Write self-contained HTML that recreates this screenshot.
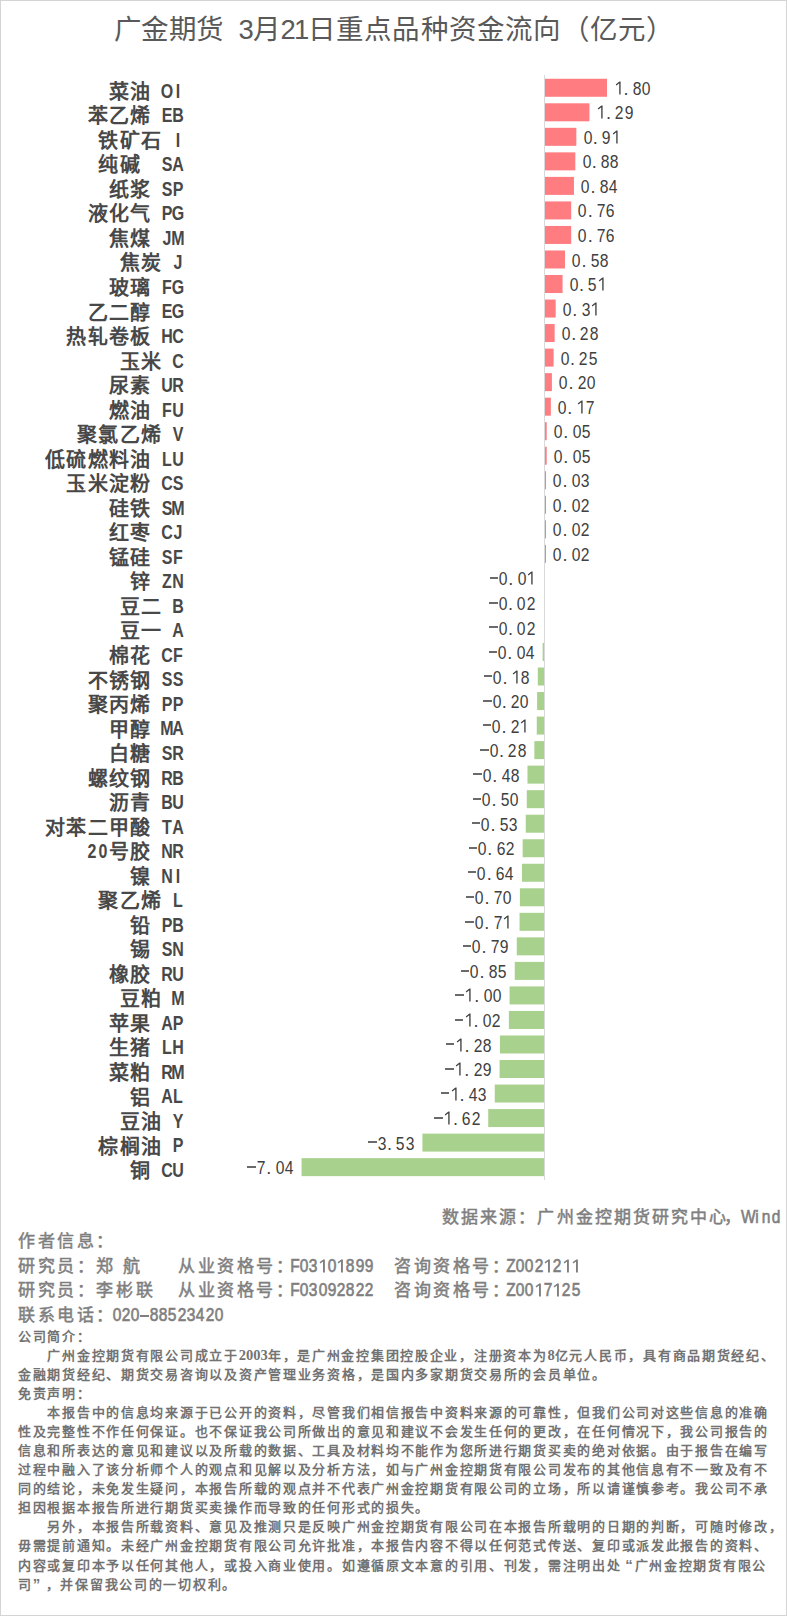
<!DOCTYPE html>
<html lang="zh-CN"><head><meta charset="utf-8">
<style>
html,body{margin:0;padding:0;background:#fff;}
body{width:787px;height:1616px;position:relative;overflow:hidden;font-family:"Liberation Sans",sans-serif;}
#frame{position:absolute;left:0;top:0;width:785px;height:1614px;border:1px solid #D4D4D4;}
.ti{position:absolute;top:14.6px;font-size:27.5px;line-height:30px;letter-spacing:0.6px;color:#595959;white-space:nowrap;}
#chart{position:absolute;left:0;top:0;}
.lb{position:absolute;right:604px;height:24px;margin-top:-12px;line-height:24px;font-weight:bold;color:#484848;white-space:nowrap;}
.lb i{font-style:normal;display:inline-block;text-align:center;vertical-align:top;height:24px;}
.lb i.c{width:21.33px;font-size:20px;position:relative;top:4px;}
.lb i.h{width:10.67px;font-size:20px;position:relative;top:2.9px;}
.lb b{display:inline-block;width:24px;margin:0 -6.67px;text-align:center;transform:scaleX(0.8);}
.vl{position:absolute;height:20px;margin-top:-8.95px;line-height:20px;font-size:18.2px;color:#404040;white-space:nowrap;}
.vl i{font-style:normal;display:inline-block;width:9.3px;height:20px;vertical-align:top;text-align:center;}
.vl i b{display:inline-block;width:16px;margin:0 -3.35px;text-align:center;font-weight:normal;transform:scaleX(0.86);}
.vl svg.one{display:block;}
.vl i.p{text-align:left;text-indent:0.6px;}
.vl i.m{position:relative;}
.mn{position:absolute;width:8.6px;height:2px;background:#6A6A6A;}
.ft{position:absolute;white-space:nowrap;color:#7F7F7F;font-weight:normal;-webkit-text-stroke:0.5px #7F7F7F;margin-top:1.3px;}
.a{font-size:17px;letter-spacing:2.6px;line-height:24px;}
.w i{font-style:normal;display:inline-block;width:9.2px;text-align:center;}
.w b{display:inline-block;width:16px;margin:0 -3.4px;text-align:center;font-weight:bold;transform:scaleX(0.72);}
.n{font-size:17px;line-height:24px;font-weight:normal;-webkit-text-stroke:0.65px #7F7F7F;margin-top:0 !important;}
.n i{font-style:normal;display:inline-block;width:9.3px;height:24px;vertical-align:top;text-align:center;position:relative;}
.n i b{display:inline-block;width:16px;margin:0 -3.35px;text-align:center;font-weight:normal;font-size:18px;transform:scaleX(0.86);}
.n svg.one{display:block;}
.n u.hy{position:absolute;left:0;top:11.5px;width:9px;height:2px;background:#7F7F7F;}
.d{position:absolute;left:18px;white-space:nowrap;color:#737373;font-weight:bold;font-size:13px;letter-spacing:1.72px;line-height:19px;}

.d .q{display:inline-block;width:13px;font-size:15px;}
.d s{text-decoration:none;font-family:"Liberation Serif",serif;font-size:14.5px;letter-spacing:0;}
</style></head><body>
<div id="frame"></div>
<div class="ti" style="left:113.5px;">广金期货</div><div class="ti" style="left:238.5px;"><span style="letter-spacing:-1px">3</span>月<span style="letter-spacing:-1.6px">21</span><span style="letter-spacing:1.2px">日重点品种资金流向（亿元）</span></div>
<svg id="chart" width="787" height="1200" viewBox="0 0 787 1200">
<rect x="544" y="75" width="1" height="1105" fill="#D9D9D9"/>
<rect x="545.00" y="78.77" width="61.99" height="18.00" fill="#FF7C80"/>
<rect x="545.00" y="103.30" width="44.43" height="18.00" fill="#FF7C80"/>
<rect x="545.00" y="127.83" width="31.34" height="18.00" fill="#FF7C80"/>
<rect x="545.00" y="152.36" width="30.31" height="18.00" fill="#FF7C80"/>
<rect x="545.00" y="176.89" width="28.93" height="18.00" fill="#FF7C80"/>
<rect x="545.00" y="201.42" width="26.17" height="18.00" fill="#FF7C80"/>
<rect x="545.00" y="225.95" width="26.17" height="18.00" fill="#FF7C80"/>
<rect x="545.00" y="250.48" width="19.98" height="18.00" fill="#FF7C80"/>
<rect x="545.00" y="275.01" width="17.56" height="18.00" fill="#FF7C80"/>
<rect x="545.00" y="299.55" width="10.68" height="18.00" fill="#FF7C80"/>
<rect x="545.00" y="324.08" width="9.64" height="18.00" fill="#FF7C80"/>
<rect x="545.00" y="348.61" width="8.61" height="18.00" fill="#FF7C80"/>
<rect x="545.00" y="373.14" width="6.89" height="18.00" fill="#FF7C80"/>
<rect x="545.00" y="397.67" width="5.85" height="18.00" fill="#FF7C80"/>
<rect x="545.00" y="422.20" width="1.72" height="18.00" fill="#FF7C80"/>
<rect x="545.00" y="446.73" width="1.72" height="18.00" fill="#FF7C80"/>
<rect x="545.00" y="471.26" width="1.03" height="18.00" fill="#FF7C80"/>
<rect x="545.00" y="495.79" width="1.00" height="18.00" fill="#FF7C80"/>
<rect x="545.00" y="520.33" width="1.00" height="18.00" fill="#FF7C80"/>
<rect x="545.00" y="544.86" width="1.00" height="18.00" fill="#FF7C80"/>
<rect x="542.62" y="642.98" width="1.38" height="18.00" fill="#A9D18E"/>
<rect x="537.80" y="667.51" width="6.20" height="18.00" fill="#A9D18E"/>
<rect x="537.11" y="692.04" width="6.89" height="18.00" fill="#A9D18E"/>
<rect x="536.77" y="716.57" width="7.23" height="18.00" fill="#A9D18E"/>
<rect x="534.36" y="741.11" width="9.64" height="18.00" fill="#A9D18E"/>
<rect x="527.47" y="765.64" width="16.53" height="18.00" fill="#A9D18E"/>
<rect x="526.78" y="790.17" width="17.22" height="18.00" fill="#A9D18E"/>
<rect x="525.75" y="814.70" width="18.25" height="18.00" fill="#A9D18E"/>
<rect x="522.65" y="839.23" width="21.35" height="18.00" fill="#A9D18E"/>
<rect x="521.96" y="863.76" width="22.04" height="18.00" fill="#A9D18E"/>
<rect x="519.89" y="888.29" width="24.11" height="18.00" fill="#A9D18E"/>
<rect x="519.55" y="912.82" width="24.45" height="18.00" fill="#A9D18E"/>
<rect x="516.79" y="937.35" width="27.21" height="18.00" fill="#A9D18E"/>
<rect x="514.73" y="961.89" width="29.27" height="18.00" fill="#A9D18E"/>
<rect x="509.56" y="986.42" width="34.44" height="18.00" fill="#A9D18E"/>
<rect x="508.87" y="1010.95" width="35.13" height="18.00" fill="#A9D18E"/>
<rect x="499.92" y="1035.48" width="44.08" height="18.00" fill="#A9D18E"/>
<rect x="499.57" y="1060.01" width="44.43" height="18.00" fill="#A9D18E"/>
<rect x="494.75" y="1084.54" width="49.25" height="18.00" fill="#A9D18E"/>
<rect x="488.21" y="1109.07" width="55.79" height="18.00" fill="#A9D18E"/>
<rect x="422.43" y="1133.60" width="121.57" height="18.00" fill="#A9D18E"/>
<rect x="301.54" y="1158.13" width="242.46" height="18.00" fill="#A9D18E"/>
</svg>
<div class="lb" style="top:87.77px"><i class="c">菜</i><i class="c">油</i><i class="h"> </i><i class="h"><b>O</b></i><i class="h"><b>I</b></i></div>
<div class="lb" style="top:112.30px"><i class="c">苯</i><i class="c">乙</i><i class="c">烯</i><i class="h"> </i><i class="h"><b>E</b></i><i class="h"><b>B</b></i></div>
<div class="lb" style="top:136.83px"><i class="c">铁</i><i class="c">矿</i><i class="c">石</i><i class="h"> </i><i class="h"><b>I</b></i></div>
<div class="lb" style="top:161.36px"><i class="c">纯</i><i class="c">碱</i><i class="h"> </i><i class="h"> </i><i class="h"><b>S</b></i><i class="h"><b>A</b></i></div>
<div class="lb" style="top:185.89px"><i class="c">纸</i><i class="c">浆</i><i class="h"> </i><i class="h"><b>S</b></i><i class="h"><b>P</b></i></div>
<div class="lb" style="top:210.42px"><i class="c">液</i><i class="c">化</i><i class="c">气</i><i class="h"> </i><i class="h"><b>P</b></i><i class="h"><b>G</b></i></div>
<div class="lb" style="top:234.95px"><i class="c">焦</i><i class="c">煤</i><i class="h"> </i><i class="h"><b>J</b></i><i class="h"><b>M</b></i></div>
<div class="lb" style="top:259.48px"><i class="c">焦</i><i class="c">炭</i><i class="h"> </i><i class="h"><b>J</b></i></div>
<div class="lb" style="top:284.01px"><i class="c">玻</i><i class="c">璃</i><i class="h"> </i><i class="h"><b>F</b></i><i class="h"><b>G</b></i></div>
<div class="lb" style="top:308.55px"><i class="c">乙</i><i class="c">二</i><i class="c">醇</i><i class="h"> </i><i class="h"><b>E</b></i><i class="h"><b>G</b></i></div>
<div class="lb" style="top:333.08px"><i class="c">热</i><i class="c">轧</i><i class="c">卷</i><i class="c">板</i><i class="h"> </i><i class="h"><b>H</b></i><i class="h"><b>C</b></i></div>
<div class="lb" style="top:357.61px"><i class="c">玉</i><i class="c">米</i><i class="h"> </i><i class="h"><b>C</b></i></div>
<div class="lb" style="top:382.14px"><i class="c">尿</i><i class="c">素</i><i class="h"> </i><i class="h"><b>U</b></i><i class="h"><b>R</b></i></div>
<div class="lb" style="top:406.67px"><i class="c">燃</i><i class="c">油</i><i class="h"> </i><i class="h"><b>F</b></i><i class="h"><b>U</b></i></div>
<div class="lb" style="top:431.20px"><i class="c">聚</i><i class="c">氯</i><i class="c">乙</i><i class="c">烯</i><i class="h"> </i><i class="h"><b>V</b></i></div>
<div class="lb" style="top:455.73px"><i class="c">低</i><i class="c">硫</i><i class="c">燃</i><i class="c">料</i><i class="c">油</i><i class="h"> </i><i class="h"><b>L</b></i><i class="h"><b>U</b></i></div>
<div class="lb" style="top:480.26px"><i class="c">玉</i><i class="c">米</i><i class="c">淀</i><i class="c">粉</i><i class="h"> </i><i class="h"><b>C</b></i><i class="h"><b>S</b></i></div>
<div class="lb" style="top:504.79px"><i class="c">硅</i><i class="c">铁</i><i class="h"> </i><i class="h"><b>S</b></i><i class="h"><b>M</b></i></div>
<div class="lb" style="top:529.33px"><i class="c">红</i><i class="c">枣</i><i class="h"> </i><i class="h"><b>C</b></i><i class="h"><b>J</b></i></div>
<div class="lb" style="top:553.86px"><i class="c">锰</i><i class="c">硅</i><i class="h"> </i><i class="h"><b>S</b></i><i class="h"><b>F</b></i></div>
<div class="lb" style="top:578.39px"><i class="c">锌</i><i class="h"> </i><i class="h"><b>Z</b></i><i class="h"><b>N</b></i></div>
<div class="lb" style="top:602.92px"><i class="c">豆</i><i class="c">二</i><i class="h"> </i><i class="h"><b>B</b></i></div>
<div class="lb" style="top:627.45px"><i class="c">豆</i><i class="c">一</i><i class="h"> </i><i class="h"><b>A</b></i></div>
<div class="lb" style="top:651.98px"><i class="c">棉</i><i class="c">花</i><i class="h"> </i><i class="h"><b>C</b></i><i class="h"><b>F</b></i></div>
<div class="lb" style="top:676.51px"><i class="c">不</i><i class="c">锈</i><i class="c">钢</i><i class="h"> </i><i class="h"><b>S</b></i><i class="h"><b>S</b></i></div>
<div class="lb" style="top:701.04px"><i class="c">聚</i><i class="c">丙</i><i class="c">烯</i><i class="h"> </i><i class="h"><b>P</b></i><i class="h"><b>P</b></i></div>
<div class="lb" style="top:725.57px"><i class="c">甲</i><i class="c">醇</i><i class="h"> </i><i class="h"><b>M</b></i><i class="h"><b>A</b></i></div>
<div class="lb" style="top:750.11px"><i class="c">白</i><i class="c">糖</i><i class="h"> </i><i class="h"><b>S</b></i><i class="h"><b>R</b></i></div>
<div class="lb" style="top:774.64px"><i class="c">螺</i><i class="c">纹</i><i class="c">钢</i><i class="h"> </i><i class="h"><b>R</b></i><i class="h"><b>B</b></i></div>
<div class="lb" style="top:799.17px"><i class="c">沥</i><i class="c">青</i><i class="h"> </i><i class="h"><b>B</b></i><i class="h"><b>U</b></i></div>
<div class="lb" style="top:823.70px"><i class="c">对</i><i class="c">苯</i><i class="c">二</i><i class="c">甲</i><i class="c">酸</i><i class="h"> </i><i class="h"><b>T</b></i><i class="h"><b>A</b></i></div>
<div class="lb" style="top:848.23px"><i class="h"><b>2</b></i><i class="h"><b>0</b></i><i class="c">号</i><i class="c">胶</i><i class="h"> </i><i class="h"><b>N</b></i><i class="h"><b>R</b></i></div>
<div class="lb" style="top:872.76px"><i class="c">镍</i><i class="h"> </i><i class="h"><b>N</b></i><i class="h"><b>I</b></i></div>
<div class="lb" style="top:897.29px"><i class="c">聚</i><i class="c">乙</i><i class="c">烯</i><i class="h"> </i><i class="h"><b>L</b></i></div>
<div class="lb" style="top:921.82px"><i class="c">铅</i><i class="h"> </i><i class="h"><b>P</b></i><i class="h"><b>B</b></i></div>
<div class="lb" style="top:946.35px"><i class="c">锡</i><i class="h"> </i><i class="h"><b>S</b></i><i class="h"><b>N</b></i></div>
<div class="lb" style="top:970.89px"><i class="c">橡</i><i class="c">胶</i><i class="h"> </i><i class="h"><b>R</b></i><i class="h"><b>U</b></i></div>
<div class="lb" style="top:995.42px"><i class="c">豆</i><i class="c">粕</i><i class="h"> </i><i class="h"><b>M</b></i></div>
<div class="lb" style="top:1019.95px"><i class="c">苹</i><i class="c">果</i><i class="h"> </i><i class="h"><b>A</b></i><i class="h"><b>P</b></i></div>
<div class="lb" style="top:1044.48px"><i class="c">生</i><i class="c">猪</i><i class="h"> </i><i class="h"><b>L</b></i><i class="h"><b>H</b></i></div>
<div class="lb" style="top:1069.01px"><i class="c">菜</i><i class="c">粕</i><i class="h"> </i><i class="h"><b>R</b></i><i class="h"><b>M</b></i></div>
<div class="lb" style="top:1093.54px"><i class="c">铝</i><i class="h"> </i><i class="h"><b>A</b></i><i class="h"><b>L</b></i></div>
<div class="lb" style="top:1118.07px"><i class="c">豆</i><i class="c">油</i><i class="h"> </i><i class="h"><b>Y</b></i></div>
<div class="lb" style="top:1142.60px"><i class="c">棕</i><i class="c">榈</i><i class="c">油</i><i class="h"> </i><i class="h"><b>P</b></i></div>
<div class="lb" style="top:1167.13px"><i class="c">铜</i><i class="h"> </i><i class="h"><b>C</b></i><i class="h"><b>U</b></i></div>
<div class="vl" style="left:613.59px;top:87.77px"><i><svg class="one" width="9.3" height="20" viewBox="0 0 9.3 20"><path d="M5.25 2.5h1.35v13h-1.35zM5.35 2.5l0.9 0.9l-3.8 3.2l-0.7-1z" fill="#404040"/></svg></i><i class="p">.</i><i><b>8</b></i><i><b>0</b></i></div>
<div class="vl" style="left:596.03px;top:112.30px"><i><svg class="one" width="9.3" height="20" viewBox="0 0 9.3 20"><path d="M5.25 2.5h1.35v13h-1.35zM5.35 2.5l0.9 0.9l-3.8 3.2l-0.7-1z" fill="#404040"/></svg></i><i class="p">.</i><i><b>2</b></i><i><b>9</b></i></div>
<div class="vl" style="left:582.94px;top:136.83px"><i><b>0</b></i><i class="p">.</i><i><b>9</b></i><i><svg class="one" width="9.3" height="20" viewBox="0 0 9.3 20"><path d="M5.25 2.5h1.35v13h-1.35zM5.35 2.5l0.9 0.9l-3.8 3.2l-0.7-1z" fill="#404040"/></svg></i></div>
<div class="vl" style="left:581.91px;top:161.36px"><i><b>0</b></i><i class="p">.</i><i><b>8</b></i><i><b>8</b></i></div>
<div class="vl" style="left:580.53px;top:185.89px"><i><b>0</b></i><i class="p">.</i><i><b>8</b></i><i><b>4</b></i></div>
<div class="vl" style="left:577.77px;top:210.42px"><i><b>0</b></i><i class="p">.</i><i><b>7</b></i><i><b>6</b></i></div>
<div class="vl" style="left:577.77px;top:234.95px"><i><b>0</b></i><i class="p">.</i><i><b>7</b></i><i><b>6</b></i></div>
<div class="vl" style="left:571.58px;top:259.48px"><i><b>0</b></i><i class="p">.</i><i><b>5</b></i><i><b>8</b></i></div>
<div class="vl" style="left:569.16px;top:284.01px"><i><b>0</b></i><i class="p">.</i><i><b>5</b></i><i><svg class="one" width="9.3" height="20" viewBox="0 0 9.3 20"><path d="M5.25 2.5h1.35v13h-1.35zM5.35 2.5l0.9 0.9l-3.8 3.2l-0.7-1z" fill="#404040"/></svg></i></div>
<div class="vl" style="left:562.28px;top:308.55px"><i><b>0</b></i><i class="p">.</i><i><b>3</b></i><i><svg class="one" width="9.3" height="20" viewBox="0 0 9.3 20"><path d="M5.25 2.5h1.35v13h-1.35zM5.35 2.5l0.9 0.9l-3.8 3.2l-0.7-1z" fill="#404040"/></svg></i></div>
<div class="vl" style="left:561.24px;top:333.08px"><i><b>0</b></i><i class="p">.</i><i><b>2</b></i><i><b>8</b></i></div>
<div class="vl" style="left:560.21px;top:357.61px"><i><b>0</b></i><i class="p">.</i><i><b>2</b></i><i><b>5</b></i></div>
<div class="vl" style="left:558.49px;top:382.14px"><i><b>0</b></i><i class="p">.</i><i><b>2</b></i><i><b>0</b></i></div>
<div class="vl" style="left:557.45px;top:406.67px"><i><b>0</b></i><i class="p">.</i><i><svg class="one" width="9.3" height="20" viewBox="0 0 9.3 20"><path d="M5.25 2.5h1.35v13h-1.35zM5.35 2.5l0.9 0.9l-3.8 3.2l-0.7-1z" fill="#404040"/></svg></i><i><b>7</b></i></div>
<div class="vl" style="left:553.32px;top:431.20px"><i><b>0</b></i><i class="p">.</i><i><b>0</b></i><i><b>5</b></i></div>
<div class="vl" style="left:553.32px;top:455.73px"><i><b>0</b></i><i class="p">.</i><i><b>0</b></i><i><b>5</b></i></div>
<div class="vl" style="left:552.63px;top:480.26px"><i><b>0</b></i><i class="p">.</i><i><b>0</b></i><i><b>3</b></i></div>
<div class="vl" style="left:552.60px;top:504.79px"><i><b>0</b></i><i class="p">.</i><i><b>0</b></i><i><b>2</b></i></div>
<div class="vl" style="left:552.60px;top:529.33px"><i><b>0</b></i><i class="p">.</i><i><b>0</b></i><i><b>2</b></i></div>
<div class="vl" style="left:552.60px;top:553.86px"><i><b>0</b></i><i class="p">.</i><i><b>0</b></i><i><b>2</b></i></div>
<div class="vl" style="left:489.16px;top:578.39px"><i class="m"></i><i><b>0</b></i><i class="p">.</i><i><b>0</b></i><i><svg class="one" width="9.3" height="20" viewBox="0 0 9.3 20"><path d="M5.25 2.5h1.35v13h-1.35zM5.35 2.5l0.9 0.9l-3.8 3.2l-0.7-1z" fill="#404040"/></svg></i></div>
<div class="mn" style="left:489.56px;top:577px"></div>
<div class="vl" style="left:488.81px;top:602.92px"><i class="m"></i><i><b>0</b></i><i class="p">.</i><i><b>0</b></i><i><b>2</b></i></div>
<div class="mn" style="left:489.21px;top:602px"></div>
<div class="vl" style="left:488.81px;top:627.45px"><i class="m"></i><i><b>0</b></i><i class="p">.</i><i><b>0</b></i><i><b>2</b></i></div>
<div class="mn" style="left:489.21px;top:626px"></div>
<div class="vl" style="left:488.12px;top:651.98px"><i class="m"></i><i><b>0</b></i><i class="p">.</i><i><b>0</b></i><i><b>4</b></i></div>
<div class="mn" style="left:488.52px;top:651px"></div>
<div class="vl" style="left:483.30px;top:676.51px"><i class="m"></i><i><b>0</b></i><i class="p">.</i><i><svg class="one" width="9.3" height="20" viewBox="0 0 9.3 20"><path d="M5.25 2.5h1.35v13h-1.35zM5.35 2.5l0.9 0.9l-3.8 3.2l-0.7-1z" fill="#404040"/></svg></i><i><b>8</b></i></div>
<div class="mn" style="left:483.70px;top:675px"></div>
<div class="vl" style="left:482.61px;top:701.04px"><i class="m"></i><i><b>0</b></i><i class="p">.</i><i><b>2</b></i><i><b>0</b></i></div>
<div class="mn" style="left:483.01px;top:700px"></div>
<div class="vl" style="left:482.27px;top:725.57px"><i class="m"></i><i><b>0</b></i><i class="p">.</i><i><b>2</b></i><i><svg class="one" width="9.3" height="20" viewBox="0 0 9.3 20"><path d="M5.25 2.5h1.35v13h-1.35zM5.35 2.5l0.9 0.9l-3.8 3.2l-0.7-1z" fill="#404040"/></svg></i></div>
<div class="mn" style="left:482.67px;top:724px"></div>
<div class="vl" style="left:479.86px;top:750.11px"><i class="m"></i><i><b>0</b></i><i class="p">.</i><i><b>2</b></i><i><b>8</b></i></div>
<div class="mn" style="left:480.26px;top:749px"></div>
<div class="vl" style="left:472.97px;top:774.64px"><i class="m"></i><i><b>0</b></i><i class="p">.</i><i><b>4</b></i><i><b>8</b></i></div>
<div class="mn" style="left:473.37px;top:773px"></div>
<div class="vl" style="left:472.28px;top:799.17px"><i class="m"></i><i><b>0</b></i><i class="p">.</i><i><b>5</b></i><i><b>0</b></i></div>
<div class="mn" style="left:472.68px;top:798px"></div>
<div class="vl" style="left:471.25px;top:823.70px"><i class="m"></i><i><b>0</b></i><i class="p">.</i><i><b>5</b></i><i><b>3</b></i></div>
<div class="mn" style="left:471.65px;top:822px"></div>
<div class="vl" style="left:468.15px;top:848.23px"><i class="m"></i><i><b>0</b></i><i class="p">.</i><i><b>6</b></i><i><b>2</b></i></div>
<div class="mn" style="left:468.55px;top:847px"></div>
<div class="vl" style="left:467.46px;top:872.76px"><i class="m"></i><i><b>0</b></i><i class="p">.</i><i><b>6</b></i><i><b>4</b></i></div>
<div class="mn" style="left:467.86px;top:871px"></div>
<div class="vl" style="left:465.39px;top:897.29px"><i class="m"></i><i><b>0</b></i><i class="p">.</i><i><b>7</b></i><i><b>0</b></i></div>
<div class="mn" style="left:465.79px;top:896px"></div>
<div class="vl" style="left:465.05px;top:921.82px"><i class="m"></i><i><b>0</b></i><i class="p">.</i><i><b>7</b></i><i><svg class="one" width="9.3" height="20" viewBox="0 0 9.3 20"><path d="M5.25 2.5h1.35v13h-1.35zM5.35 2.5l0.9 0.9l-3.8 3.2l-0.7-1z" fill="#404040"/></svg></i></div>
<div class="mn" style="left:465.45px;top:921px"></div>
<div class="vl" style="left:462.29px;top:946.35px"><i class="m"></i><i><b>0</b></i><i class="p">.</i><i><b>7</b></i><i><b>9</b></i></div>
<div class="mn" style="left:462.69px;top:945px"></div>
<div class="vl" style="left:460.23px;top:970.89px"><i class="m"></i><i><b>0</b></i><i class="p">.</i><i><b>8</b></i><i><b>5</b></i></div>
<div class="mn" style="left:460.63px;top:970px"></div>
<div class="vl" style="left:455.06px;top:995.42px"><i class="m"></i><i><svg class="one" width="9.3" height="20" viewBox="0 0 9.3 20"><path d="M5.25 2.5h1.35v13h-1.35zM5.35 2.5l0.9 0.9l-3.8 3.2l-0.7-1z" fill="#404040"/></svg></i><i class="p">.</i><i><b>0</b></i><i><b>0</b></i></div>
<div class="mn" style="left:455.46px;top:994px"></div>
<div class="vl" style="left:454.37px;top:1019.95px"><i class="m"></i><i><svg class="one" width="9.3" height="20" viewBox="0 0 9.3 20"><path d="M5.25 2.5h1.35v13h-1.35zM5.35 2.5l0.9 0.9l-3.8 3.2l-0.7-1z" fill="#404040"/></svg></i><i class="p">.</i><i><b>0</b></i><i><b>2</b></i></div>
<div class="mn" style="left:454.77px;top:1019px"></div>
<div class="vl" style="left:445.42px;top:1044.48px"><i class="m"></i><i><svg class="one" width="9.3" height="20" viewBox="0 0 9.3 20"><path d="M5.25 2.5h1.35v13h-1.35zM5.35 2.5l0.9 0.9l-3.8 3.2l-0.7-1z" fill="#404040"/></svg></i><i class="p">.</i><i><b>2</b></i><i><b>8</b></i></div>
<div class="mn" style="left:445.82px;top:1043px"></div>
<div class="vl" style="left:445.07px;top:1069.01px"><i class="m"></i><i><svg class="one" width="9.3" height="20" viewBox="0 0 9.3 20"><path d="M5.25 2.5h1.35v13h-1.35zM5.35 2.5l0.9 0.9l-3.8 3.2l-0.7-1z" fill="#404040"/></svg></i><i class="p">.</i><i><b>2</b></i><i><b>9</b></i></div>
<div class="mn" style="left:445.47px;top:1068px"></div>
<div class="vl" style="left:440.25px;top:1093.54px"><i class="m"></i><i><svg class="one" width="9.3" height="20" viewBox="0 0 9.3 20"><path d="M5.25 2.5h1.35v13h-1.35zM5.35 2.5l0.9 0.9l-3.8 3.2l-0.7-1z" fill="#404040"/></svg></i><i class="p">.</i><i><b>4</b></i><i><b>3</b></i></div>
<div class="mn" style="left:440.65px;top:1092px"></div>
<div class="vl" style="left:433.71px;top:1118.07px"><i class="m"></i><i><svg class="one" width="9.3" height="20" viewBox="0 0 9.3 20"><path d="M5.25 2.5h1.35v13h-1.35zM5.35 2.5l0.9 0.9l-3.8 3.2l-0.7-1z" fill="#404040"/></svg></i><i class="p">.</i><i><b>6</b></i><i><b>2</b></i></div>
<div class="mn" style="left:434.11px;top:1117px"></div>
<div class="vl" style="left:367.93px;top:1142.60px"><i class="m"></i><i><b>3</b></i><i class="p">.</i><i><b>5</b></i><i><b>3</b></i></div>
<div class="mn" style="left:368.33px;top:1141px"></div>
<div class="vl" style="left:247.04px;top:1167.13px"><i class="m"></i><i><b>7</b></i><i class="p">.</i><i><b>0</b></i><i><b>4</b></i></div>
<div class="mn" style="left:247.44px;top:1166px"></div>
<div class="ft a" style="left:442px;top:1205px;letter-spacing:2.1px;">数据来源：广州金控期货研究中心<span style="margin-left:-5px">，</span></div>
<div class="ft n w" style="left:743px;top:1205px;"><i><b>W</b></i><i><b>i</b></i><i><b>n</b></i><i><b>d</b></i></div>
<div class="ft a" style="left:18px;top:1229px;">作者信息：</div>
<div class="ft a" style="left:18px;top:1254px;">研究员：郑 航</div>
<div class="ft a" style="left:178px;top:1254px;">从业资格号：</div>
<div class="ft n" style="left:290px;top:1254px;"><i><b>F</b></i><i><b>0</b></i><i><b>3</b></i><i><svg class="one" width="9.3" height="24" viewBox="0 0 9.3 24"><path d="M5.0 5.4h1.9v13.1h-1.9zM5.2 5.4l1.2 1.2l-4.0 3.0l-0.8-1.3z" fill="#7F7F7F"/></svg></i><i><b>0</b></i><i><svg class="one" width="9.3" height="24" viewBox="0 0 9.3 24"><path d="M5.0 5.4h1.9v13.1h-1.9zM5.2 5.4l1.2 1.2l-4.0 3.0l-0.8-1.3z" fill="#7F7F7F"/></svg></i><i><b>8</b></i><i><b>9</b></i><i><b>9</b></i></div>
<div class="ft a" style="left:394px;top:1254px;">咨询资格号：</div>
<div class="ft n" style="left:506px;top:1254px;"><i><b>Z</b></i><i><b>0</b></i><i><b>0</b></i><i><b>2</b></i><i><svg class="one" width="9.3" height="24" viewBox="0 0 9.3 24"><path d="M5.0 5.4h1.9v13.1h-1.9zM5.2 5.4l1.2 1.2l-4.0 3.0l-0.8-1.3z" fill="#7F7F7F"/></svg></i><i><b>2</b></i><i><svg class="one" width="9.3" height="24" viewBox="0 0 9.3 24"><path d="M5.0 5.4h1.9v13.1h-1.9zM5.2 5.4l1.2 1.2l-4.0 3.0l-0.8-1.3z" fill="#7F7F7F"/></svg></i><i><svg class="one" width="9.3" height="24" viewBox="0 0 9.3 24"><path d="M5.0 5.4h1.9v13.1h-1.9zM5.2 5.4l1.2 1.2l-4.0 3.0l-0.8-1.3z" fill="#7F7F7F"/></svg></i></div>
<div class="ft a" style="left:18px;top:1278px;">研究员：李彬联</div>
<div class="ft a" style="left:178px;top:1278px;">从业资格号：</div>
<div class="ft n" style="left:290px;top:1278px;"><i><b>F</b></i><i><b>0</b></i><i><b>3</b></i><i><b>0</b></i><i><b>9</b></i><i><b>2</b></i><i><b>8</b></i><i><b>2</b></i><i><b>2</b></i></div>
<div class="ft a" style="left:394px;top:1278px;">咨询资格号：</div>
<div class="ft n" style="left:506px;top:1278px;"><i><b>Z</b></i><i><b>0</b></i><i><b>0</b></i><i><svg class="one" width="9.3" height="24" viewBox="0 0 9.3 24"><path d="M5.0 5.4h1.9v13.1h-1.9zM5.2 5.4l1.2 1.2l-4.0 3.0l-0.8-1.3z" fill="#7F7F7F"/></svg></i><i><b>7</b></i><i><svg class="one" width="9.3" height="24" viewBox="0 0 9.3 24"><path d="M5.0 5.4h1.9v13.1h-1.9zM5.2 5.4l1.2 1.2l-4.0 3.0l-0.8-1.3z" fill="#7F7F7F"/></svg></i><i><b>2</b></i><i><b>5</b></i></div>
<div class="ft a" style="left:18px;top:1303px;">联系电话：</div>
<div class="ft n" style="left:112px;top:1303px;"><i><b>0</b></i><i><b>2</b></i><i><b>0</b></i><i><u class="hy"></u></i><i><b>8</b></i><i><b>8</b></i><i><b>5</b></i><i><b>2</b></i><i><b>3</b></i><i><b>4</b></i><i><b>2</b></i><i><b>0</b></i></div>
<div class="d" style="top:1327px;">公司简介：</div>
<div class="d" style="top:1346px;">　　广州金控期货有限公司成立于<s>2003</s>年，是广州金控集团控股企业，注册资本为<s>8</s>亿元人民币，具有商品期货经纪、</div>
<div class="d" style="top:1365px;">金融期货经纪、期货交易咨询以及资产管理业务资格，是国内多家期货交易所的会员单位。</div>
<div class="d" style="top:1384px;">免责声明：</div>
<div class="d" style="top:1403px;">　　本报告中的信息均来源于已公开的资料，尽管我们相信报告中资料来源的可靠性，但我们公司对这些信息的准确</div>
<div class="d" style="top:1422px;">性及完整性不作任何保证。也不保证我公司所做出的意见和建议不会发生任何的更改，在任何情况下，我公司报告的</div>
<div class="d" style="top:1441px;">信息和所表达的意见和建议以及所载的数据、工具及材料均不能作为您所进行期货买卖的绝对依据。由于报告在编写</div>
<div class="d" style="top:1460px;">过程中融入了该分析师个人的观点和见解以及分析方法，如与广州金控期货有限公司发布的其他信息有不一致及有不</div>
<div class="d" style="top:1479px;">同的结论，未免发生疑问，本报告所载的观点并不代表广州金控期货有限公司的立场，所以请谨慎参考。我公司不承</div>
<div class="d" style="top:1498px;">担因根据本报告所进行期货买卖操作而导致的任何形式的损失。</div>
<div class="d" style="top:1517px;">　　另外，本报告所载资料、意见及推测只是反映广州金控期货有限公司在本报告所载明的日期的判断，可随时修改，</div>
<div class="d" style="top:1536px;">毋需提前通知。未经广州金控期货有限公司允许批准，本报告内容不得以任何范式传送、复印或派发此报告的资料、</div>
<div class="d" style="top:1555px;">内容或复印本予以任何其他人，或投入商业使用。如遵循原文本意的引用、刊发，需注明出处<span class="q" style="text-align:right">“</span>广州金控期货有限公</div>
<div class="d" style="top:1574px;">司<span class="q" style="text-align:left">”</span>，并保留我公司的一切权利。</div>
</body></html>
